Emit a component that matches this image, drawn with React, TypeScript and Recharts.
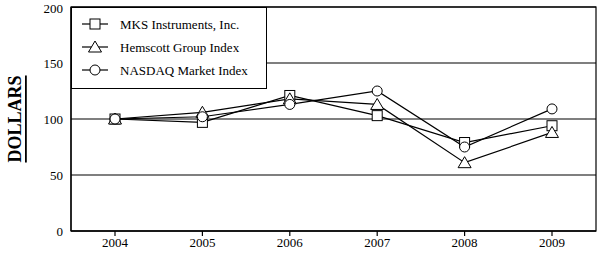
import React from 'react';
import * as Recharts from 'recharts';
import { LineChart, Line, XAxis, YAxis, CartesianGrid, Legend } from 'recharts';

const years = ['2004', '2005', '2006', '2007', '2008', '2009'];
const mks = [100, 97, 121, 103, 79, 94];
const hemscott = [100, 106, 118, 113, 61, 88];
const nasdaq = [100, 102, 113, 125, 75, 109];
const yTicks = [0, 50, 100, 150, 200];

const seriesInfo = [
    { key: 'mks', name: 'MKS Instruments, Inc.', shape: 'square' },
    { key: 'hemscott', name: 'Hemscott Group Index', shape: 'triangle' },
    { key: 'nasdaq', name: 'NASDAQ Market Index', shape: 'circle' },
];

const data = years.map((year, i) => ({ year, mks: mks[i], hemscott: hemscott[i], nasdaq: nasdaq[i] }));

const FONT = 'Liberation Serif, Times New Roman, serif';
const tickStyle = { fontFamily: FONT, fontSize: 13, fill: '#000' };

// plot-area hook from recharts 3 (whichever this build exports)
const usePlot: any = (Recharts as any).usePlotArea || (Recharts as any).useOffset || (() => null);

const Marker = ({ cx, cy, shape }: { cx: number; cy: number; shape: string }) => {
    if (shape === 'square') {
        return <rect x={cx - 5} y={cy - 5} width={10} height={10} fill="#fff" stroke="#000" strokeWidth={1} />;
    }
    if (shape === 'triangle') {
        return <polygon points={`${cx},${cy - 6} ${cx + 6.5},${cy + 5} ${cx - 6.5},${cy + 5}`} fill="#fff" stroke="#000" strokeWidth={1} />;
    }
    return <circle cx={cx} cy={cy} r={5} fill="#fff" stroke="#000" strokeWidth={1} />;
};

const makeDot = (shape: string) => (props: any) => {
    const { cx, cy, index } = props;
    if (cx == null || cy == null) return <g key={index} />;
    return <Marker key={index} cx={cx} cy={cy} shape={shape} />;
};

// border round the plot area, sized from the chart's own plot area
const PlotFrame = () => {
    const area = usePlot();
    if (!area) return null;
    const x = area.x != null ? area.x : area.left;
    const y = area.y != null ? area.y : area.top;
    if (x == null || y == null) return null;
    return <rect x={x} y={y} width={area.width} height={area.height} fill="none" stroke="#000" strokeWidth={1.2} />;
};

const LegendBox = () => (
    <svg width={196} height={82} style={{ display: 'block' }}>
        <rect x={0.5} y={0.5} width={195} height={81} fill="#fff" stroke="#000" />
        {seriesInfo.map((s, i) => {
            const cy = 17 + i * 23;
            return (
                <g key={s.key}>
                    <line x1={11} x2={37} y1={cy} y2={cy} stroke="#000" strokeWidth={1.2} />
                    <Marker cx={24} cy={cy} shape={s.shape} />
                    <text x={49} y={cy + 4.5} style={{ fontFamily: FONT, fontSize: 13 }} fill="#000">{s.name}</text>
                </g>
            );
        })}
    </svg>
);

const DollarsLabel = (props: any) => {
    const vb = props.viewBox || {};
    const cx = 15;
    const cy = vb.y + vb.height / 2;
    return (
        <text
            x={cx}
            y={cy}
            transform={`rotate(-90 ${cx} ${cy})`}
            textAnchor="middle"
            dominantBaseline="central"
            style={{ fontFamily: FONT, fontSize: 18, fontWeight: 'bold', textDecoration: 'underline' }}
            fill="#000"
        >
            DOLLARS
        </text>
    );
};

export default function App() {
    return (
        <div style={{ position: 'absolute', left: 0, top: 0, background: '#fff', fontFamily: FONT }}>
            <LineChart width={597} height={254} data={data} margin={{ top: 7, right: 1, left: 0, bottom: 0 }} style={{ fontFamily: FONT }}>
                <CartesianGrid horizontal vertical={false} stroke="#000" strokeWidth={1.2} />
                <PlotFrame />
                <XAxis
                    dataKey="year"
                    padding={{ left: 44, right: 44 }}
                    height={23}
                    stroke="#000"
                    strokeWidth={1.2}
                    tickSize={5}
                    tick={tickStyle}
                />
                <YAxis
                    domain={[0, 200]}
                    ticks={yTicks}
                    width={71}
                    stroke="#000"
                    strokeWidth={1.2}
                    tickLine={false}
                    tick={tickStyle}
                    label={<DollarsLabel />}
                />
                <Legend
                    layout="vertical"
                    align="center"
                    verticalAlign="middle"
                    wrapperStyle={{ position: 'absolute', top: 7, left: 71, width: 196, height: 82 }}
                    content={() => <LegendBox />}
                />
                {seriesInfo.map((s) => (
                    <Line
                        key={s.key}
                        type="linear"
                        dataKey={s.key}
                        name={s.name}
                        stroke="#000"
                        strokeWidth={1.2}
                        dot={makeDot(s.shape)}
                        activeDot={false}
                        isAnimationActive={false}
                    />
                ))}
            </LineChart>
        </div>
    );
}
